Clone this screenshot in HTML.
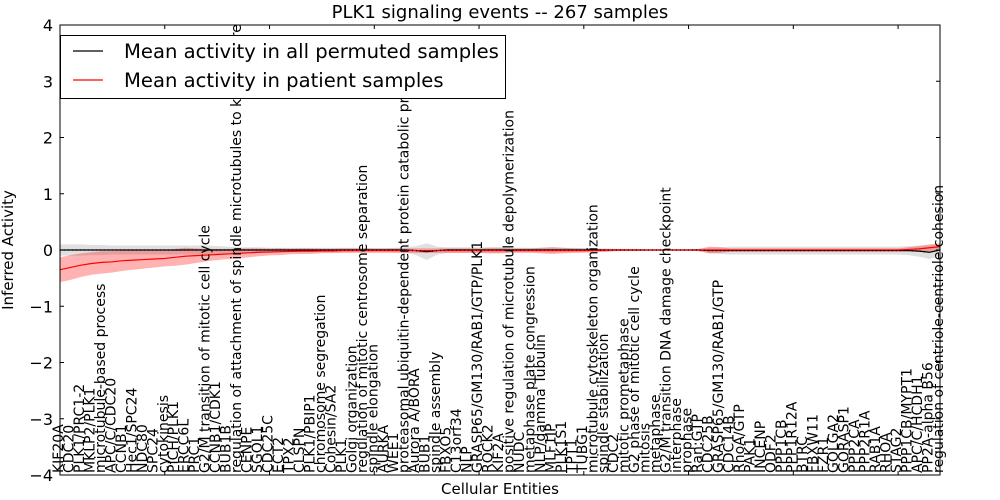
<!DOCTYPE html>
<html><head><meta charset="utf-8"><style>
body{margin:0;background:#fff;}
svg{display:block;font-family:"DejaVu Sans","Liberation Sans",sans-serif;}
</style></head><body>
<svg id="chart" width="1000" height="500"></svg>
<script>
const labels=["KIF20A","CDC20","PLK1/PRC1-2","MKLP2/PLK1","microtubule-based process","APC/C/CDC20","CCNB1","Hec1/SPC24","NDC80","SPC24",
"cytokinesis","PICH/PLK1","ERCC6L","PRC1","G2/M transition of mitotic cell cycle","CCNB1/CDK1","BUB1B","regulation of attachment of spindle microtubules to kinetochore","CENPE","SGOL1",
"CDC25C","ECT2","TPX2","CLSPN","PLK1/PBIP1","chromosome segregation","Cohesin/SA2","PLK1","Golgi organization","regulation of mitotic centrosome separation",
"spindle elongation","AURKA","WEE1","proteasomal ubiquitin-dependent protein catabolic process","Aurora A/BORA","BUB1","spindle assembly","FBXO5","C13orf34","NLP",
"GRASP65/GM130/RAB1/GTP/PLK1","ROCK2","KIF2A","positive regulation of microtubule depolymerization","NUDC","metaphase plate congression","NLP/gamma Tubulin","MLF1IP","PLK1S1","TPT1",
"TUBG1","microtubule cytoskeleton organization","spindle stabilization","CDC2","mitotic prometaphase","G2 phase of mitotic cell cycle","mitosis","metaphase","G2/M transition DNA damage checkpoint","interphase",
"prophase","Ran:GTP","CDC25B","GRASP65/GM130/RAB1/GTP","CDC14B","RhoA/GTP","PAK1","INCENP","ODF2","PPP1CB",
"PPP1R12A","BTRC","FBXW11","FZR1","GOLGA2","GORASP1","PPP2CA","PPP2R1A","RAB1A","RHOA",
"STAG2","PPP1CB/MYPT1","APC/C/HCDH1","PP2A-alpha B56","regulation of centriole-centriole cohesion"];
const patientMean=[-0.35,-0.31,-0.27,-0.24,-0.22,-0.21,-0.19,-0.18,-0.17,-0.16,
-0.15,-0.13,-0.11,-0.1,-0.09,-0.08,-0.07,-0.06,-0.05,-0.04,
-0.035,-0.03,-0.025,-0.02,-0.02,-0.015,-0.015,-0.01,-0.01,-0.01,
-0.01,-0.01,-0.01,-0.01,-0.01,-0.01,-0.01,-0.01,-0.01,-0.01,
-0.01,-0.01,-0.01,-0.01,-0.01,-0.01,-0.01,-0.01,-0.01,-0.01,
-0.01,-0.01,-0.005,0,0,0,0,0,0,0,
0,0,0,0,0,0,0,0,0,0,
0,0,0,0,0,0,0,0,0,0,
0,0.01,0.02,0.04,0.06];
const patientSpread=[0.22,0.22,0.21,0.2,0.2,0.19,0.18,0.17,0.16,0.15,
0.14,0.15,0.15,0.13,0.11,0.1,0.09,0.09,0.08,0.07,
0.06,0.06,0.05,0.05,0.05,0.04,0.04,0.04,0.04,0.04,
0.04,0.04,0.04,0.04,0.04,0.04,0.04,0.04,0.04,0.04,
0.04,0.05,0.05,0.04,0.04,0.04,0.05,0.06,0.05,0.04,
0.04,0.03,0.03,0.02,0.02,0.02,0.01,0.01,0.01,0.01,
0.01,0.02,0.06,0.05,0.03,0.03,0.03,0.03,0.03,0.03,
0.03,0.03,0.03,0.03,0.03,0.03,0.03,0.03,0.03,0.03,
0.03,0.04,0.05,0.06,0.06];
const permMean=[0,0,0,0,0,0,0,0,0,0,
0,0,0,0,0,0,0,0,0,0,
0,0,0,0,0,0,0,0,0,0,
0,0,0,0,-0.01,-0.03,-0.01,0,0,0,
0,0,0,0,0,0,0,0,0,0,
0,0,0,0,0,0,0,0,0,0,
0,0,-0.01,-0.01,-0.01,-0.01,-0.01,-0.01,-0.01,-0.01,
-0.01,-0.01,-0.01,-0.01,-0.01,-0.01,-0.01,-0.01,-0.01,-0.01,
-0.01,-0.01,-0.02,-0.04,0];
const permSpread=[0.1,0.1,0.1,0.09,0.09,0.08,0.08,0.08,0.08,0.08,
0.08,0.08,0.08,0.08,0.08,0.07,0.06,0.05,0.05,0.05,
0.04,0.04,0.04,0.04,0.04,0.04,0.04,0.04,0.04,0.04,
0.03,0.03,0.04,0.05,0.08,0.15,0.07,0.05,0.05,0.05,
0.05,0.05,0.05,0.04,0.04,0.04,0.04,0.05,0.04,0.04,
0.03,0.03,0.02,0.02,0.01,0.01,0.01,0.01,0.01,0.01,
0.01,0.02,0.05,0.06,0.07,0.07,0.07,0.07,0.07,0.07,
0.07,0.07,0.07,0.07,0.07,0.07,0.07,0.07,0.07,0.07,
0.07,0.08,0.1,0.12,0.1];
const yTicks=[-4,-3,-2,-1,0,1,2,3,4];

const NS="http://www.w3.org/2000/svg";
const svg=document.getElementById('chart');
const L=60,R=940,T=25,B=475;
const n=labels.length;
const xs=i=>L+i*(R-L)/(n-1);
const ys=v=>T+(4-v)*(B-T)/8;
function mk(tag,attrs,parent){const e=document.createElementNS(NS,tag);for(const k in attrs)e.setAttribute(k,attrs[k]);(parent||svg).appendChild(e);return e;}

const defs=mk('defs',{});
const cp=mk('clipPath',{id:'pc'},defs);
mk('rect',{x:L,y:T,width:R-L,height:B-T},cp);
const cp2=mk('clipPath',{id:'lc'},defs);
mk('rect',{x:0,y:T,width:1000,height:B-T},cp2);
const g=mk('g',{'clip-path':'url(#pc)'});
const gl=mk('g',{'clip-path':'url(#lc)'});

function band(mean,spread,fill,op,name){
  let d='';
  for(let i=0;i<n;i++)d+=(i?'L':'M')+xs(i)+','+ys(mean[i]+spread[i]);
  for(let i=n-1;i>=0;i--)d+='L'+xs(i)+','+ys(mean[i]-spread[i]);
  const p=mk('path',{d:d+'Z',fill:fill,'fill-opacity':op,stroke:'none'},g);
  
  
}
function line(mean,color,name,dash){
  let d='';
  for(let i=0;i<n;i++)d+=(i?'L':'M')+xs(i)+','+ys(mean[i]);
  const p=mk('path',{d:d,fill:'none',stroke:color,'stroke-width':1.2},g);
  if(dash)p.setAttribute('stroke-dasharray',dash);
  
  
}
band(permMean,permSpread,'#999999',0.3,'permuted-band');
band(patientMean,patientSpread,'#ff0000',0.3,'patient-band');
line(permMean,'#000','permuted-mean-line');
line(patientMean,'#ff0000','patient-mean-line');
line(permMean,'#000','permuted-mean-dots','1,3');

labels.forEach((t,i)=>{
  const x=xs(i)+3;
  const tx=mk('text',{x:0,y:0,transform:`translate(${x},${B-2}) rotate(-90)`,'font-size':14,fill:'#000'},gl);
  tx.textContent=t;
  
  
});

const fr=mk('rect',{x:L,y:T,width:R-L,height:B-T,fill:'none',stroke:'#000','stroke-width':1});



for(let i=0;i<n;i+=10){
  mk('line',{x1:xs(i),x2:xs(i),y1:T,y2:T+4,stroke:'#000'});
  mk('line',{x1:xs(i),x2:xs(i),y1:B,y2:B-4,stroke:'#000'});
}
yTicks.forEach(v=>{
  const y=ys(v);
  mk('line',{x1:L,x2:L+4,y1:y,y2:y,stroke:'#000'});
  mk('line',{x1:R,x2:R-4,y1:y,y2:y,stroke:'#000'});
  const t=mk('text',{x:L-7,y:y+6,'text-anchor':'end','font-size':16});
  t.textContent=(v<0?'\u2212':'')+Math.abs(v);
  
  
});

const title=mk('text',{x:500,y:18,'text-anchor':'middle','font-size':18});
title.textContent='PLK1 signaling events -- 267 samples';



const xt=mk('text',{x:500,y:494,'text-anchor':'middle','font-size':15});
xt.textContent='Cellular Entities';



const yt=mk('text',{x:0,y:0,transform:'translate(13,250) rotate(-90)','text-anchor':'middle','font-size':15});
yt.textContent='Inferred Activity';



const lg=mk('g',{});


mk('rect',{x:60.5,y:35.5,width:445,height:63,fill:'#fff',stroke:'#000'},lg);
mk('line',{x1:73,x2:103,y1:51,y2:51,stroke:'#000','stroke-width':1.2},lg);
mk('line',{x1:73,x2:103,y1:80,y2:80,stroke:'#ff0000','stroke-width':1.2},lg);
const l1=mk('text',{x:124,y:58,'font-size':19.6},lg);l1.textContent='Mean activity in all permuted samples';


const l2=mk('text',{x:124,y:87,'font-size':19.6},lg);l2.textContent='Mean activity in patient samples';


</script>
</body></html>
